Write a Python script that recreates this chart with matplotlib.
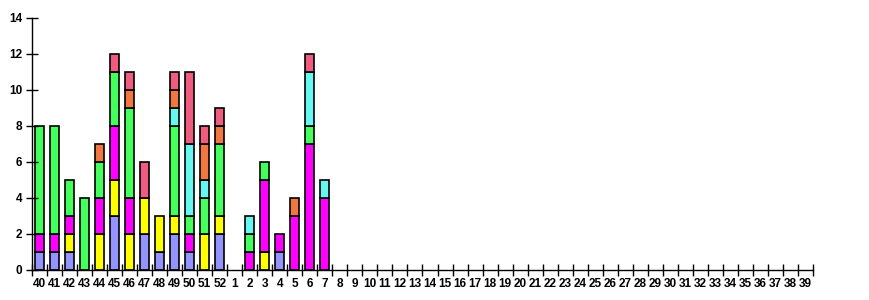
import matplotlib
matplotlib.use('Agg')
import matplotlib.pyplot as plt
import numpy as np

weeks = [str(w) for w in range(40, 53)] + [str(w) for w in range(1, 40)]

# counts per week, stacked bottom-up in this order
blue    = [1, 1, 1, 0, 0, 3, 0, 2, 1, 2, 1, 0, 2, 0, 0, 0, 1, 0, 0, 0]
yellow  = [0, 0, 1, 0, 2, 2, 2, 2, 2, 1, 0, 2, 1, 0, 0, 1, 0, 0, 0, 0]
magenta = [1, 1, 1, 0, 2, 3, 2, 0, 0, 0, 1, 0, 0, 0, 1, 4, 1, 3, 7, 4]
green   = [6, 6, 2, 4, 2, 3, 5, 0, 0, 5, 1, 2, 4, 0, 1, 1, 0, 0, 1, 0]
cyan    = [0, 0, 0, 0, 0, 0, 0, 0, 0, 1, 4, 1, 0, 0, 1, 0, 0, 0, 3, 1]
orange  = [0, 0, 0, 0, 1, 0, 1, 0, 0, 1, 0, 2, 1, 0, 0, 0, 0, 1, 0, 0]
pink    = [0, 0, 0, 0, 0, 1, 1, 2, 0, 1, 4, 1, 1, 0, 0, 0, 0, 0, 1, 0]

series = [blue, yellow, magenta, green, cyan, orange, pink]
colors = ['#9494FF', '#FFFF00', '#FF00FF', '#44FF5C', '#66F8F0', '#F07840', '#F05C80']

fig = plt.figure(figsize=(8.7, 3.0), dpi=100)
ax = fig.add_axes([32 / 870, 0.1, (813 - 32) / 870, 0.84])

n = len(weeks)
x = np.arange(n)
bottom = np.zeros(n)
for vals, col in zip(series, colors):
    v = np.array(vals + [0] * (n - len(vals)), dtype=float)
    mask = v > 0
    ax.bar(x[mask], v[mask], bottom=bottom[mask], width=0.6, color=col,
           edgecolor='black', linewidth=1.2)
    bottom += v

ax.set_xlim(-0.5, n - 0.5)
ax.set_ylim(0, 14)
ax.set_yticks(range(0, 15, 2))
ax.set_xticks(x)
ax.set_xticklabels(weeks)
ax.set_xticks(np.arange(-0.5, n, 1), minor=True)
ax.tick_params(axis='x', which='major', length=0, pad=6)
ax.tick_params(axis='x', which='minor', direction='inout', length=8, width=1)
ax.tick_params(axis='y', direction='inout', length=8, width=1, pad=3)
for lab in ax.get_xticklabels() + ax.get_yticklabels():
    lab.set_fontweight('bold')
    lab.set_fontsize(8.5)
    lab.set_fontfamily('Liberation Sans')

for s in ['top', 'right']:
    ax.spines[s].set_visible(False)
ax.spines['left'].set_linewidth(1)
ax.spines['bottom'].set_linewidth(1)

plt.savefig('out.png', dpi=100)
plt.close()
